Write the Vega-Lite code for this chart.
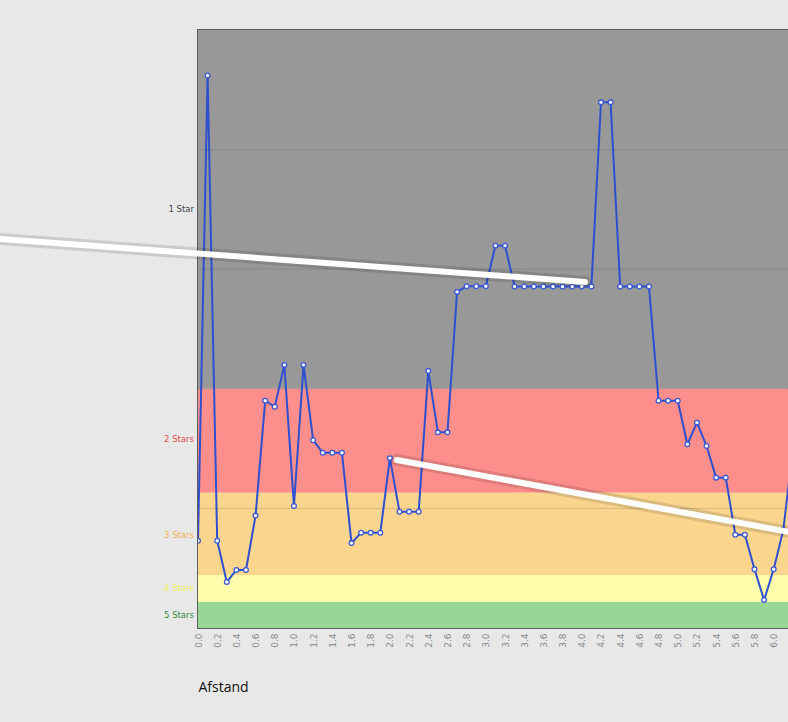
{
  "$schema": "https://vega.github.io/schema/vega-lite/v6.json",
  "width": 590,
  "height": 598,
  "autosize": {"type": "none"},
  "padding": {"left": 198, "top": 30, "right": 0, "bottom": 94},
  "background": "#e8e8e8",
  "config": {
    "view": {"stroke": "#5f5f5f", "strokeWidth": 2},
    "font": "DejaVu Sans"
  },
  "datasets": {
    "bands": [
      {"band": "1 Star", "lo": 2.0, "hi": 5.0, "mid": 3.5},
      {"band": "2 Stars", "lo": 1.13, "hi": 2.0, "mid": 1.58},
      {"band": "3 Stars", "lo": 0.443, "hi": 1.13, "mid": 0.78},
      {"band": "4 Stars", "lo": 0.217, "hi": 0.443, "mid": 0.333},
      {"band": "5 Stars", "lo": 0.0, "hi": 0.217, "mid": 0.108}
    ],
    "grid": [{"g": 1}, {"g": 2}, {"g": 3}, {"g": 4}],
    "series": [
      {"afstand": 0.0, "v": 0.73}, {"afstand": 0.1, "v": 4.62}, {"afstand": 0.2, "v": 0.73},
      {"afstand": 0.3, "v": 0.385}, {"afstand": 0.4, "v": 0.485}, {"afstand": 0.5, "v": 0.485},
      {"afstand": 0.6, "v": 0.94}, {"afstand": 0.7, "v": 1.9}, {"afstand": 0.8, "v": 1.85},
      {"afstand": 0.9, "v": 2.2}, {"afstand": 1.0, "v": 1.02}, {"afstand": 1.1, "v": 2.2},
      {"afstand": 1.2, "v": 1.57}, {"afstand": 1.3, "v": 1.465}, {"afstand": 1.4, "v": 1.465},
      {"afstand": 1.5, "v": 1.465}, {"afstand": 1.6, "v": 0.71}, {"afstand": 1.7, "v": 0.797},
      {"afstand": 1.8, "v": 0.797}, {"afstand": 1.9, "v": 0.797}, {"afstand": 2.0, "v": 1.42},
      {"afstand": 2.1, "v": 0.972}, {"afstand": 2.2, "v": 0.972}, {"afstand": 2.3, "v": 0.972},
      {"afstand": 2.4, "v": 2.15}, {"afstand": 2.5, "v": 1.636}, {"afstand": 2.6, "v": 1.636},
      {"afstand": 2.7, "v": 2.81}, {"afstand": 2.8, "v": 2.857}, {"afstand": 2.9, "v": 2.857},
      {"afstand": 3.0, "v": 2.857}, {"afstand": 3.1, "v": 3.197}, {"afstand": 3.2, "v": 3.197},
      {"afstand": 3.3, "v": 2.855}, {"afstand": 3.4, "v": 2.855}, {"afstand": 3.5, "v": 2.855},
      {"afstand": 3.6, "v": 2.855}, {"afstand": 3.7, "v": 2.855}, {"afstand": 3.8, "v": 2.855},
      {"afstand": 3.9, "v": 2.855}, {"afstand": 4.0, "v": 2.855}, {"afstand": 4.1, "v": 2.855},
      {"afstand": 4.2, "v": 4.395}, {"afstand": 4.3, "v": 4.395}, {"afstand": 4.4, "v": 2.855},
      {"afstand": 4.5, "v": 2.855}, {"afstand": 4.6, "v": 2.855}, {"afstand": 4.7, "v": 2.855},
      {"afstand": 4.8, "v": 1.9}, {"afstand": 4.9, "v": 1.9}, {"afstand": 5.0, "v": 1.9},
      {"afstand": 5.1, "v": 1.536}, {"afstand": 5.2, "v": 1.717}, {"afstand": 5.3, "v": 1.522},
      {"afstand": 5.4, "v": 1.257}, {"afstand": 5.5, "v": 1.257}, {"afstand": 5.6, "v": 0.78},
      {"afstand": 5.7, "v": 0.78}, {"afstand": 5.8, "v": 0.491}, {"afstand": 5.9, "v": 0.234},
      {"afstand": 6.0, "v": 0.491}, {"afstand": 6.1, "v": 0.82}, {"afstand": 6.2, "v": 1.5}
    ],
    "callouts": [
      {"x1": -2.064, "y1": 3.253, "x2": 4.033, "y2": 2.893},
      {"x1": 2.071, "y1": 1.405, "x2": 6.149, "y2": 0.805}
    ]
  },
  "layer": [
    {
      "data": {"name": "bands"},
      "mark": {"type": "rect"},
      "encoding": {
        "y": {"field": "lo", "type": "quantitative", "scale": {"domain": [0, 5], "nice": false, "zero": true}, "axis": null},
        "y2": {"field": "hi"},
        "fill": {
          "field": "band", "type": "nominal", "legend": null,
          "scale": {"domain": ["1 Star", "2 Stars", "3 Stars", "4 Stars", "5 Stars"],
                    "range": ["#989898", "#fd8e8b", "#fad58e", "#fefbab", "#97d796"]}
        }
      }
    },
    {
      "data": {"name": "grid"},
      "mark": {"type": "rule", "color": "#555555", "opacity": 0.22, "strokeWidth": 1},
      "encoding": {
        "y": {"field": "g", "type": "quantitative", "axis": null}
      }
    },
    {
      "data": {"name": "series"},
      "mark": {"type": "line", "color": "#2f4fcf", "strokeWidth": 2, "clip": true},
      "encoding": {
        "x": {
          "field": "afstand", "type": "quantitative",
          "scale": {"domain": [0, 6.149], "nice": false, "zero": false},
          "axis": {
            "values": [0.0, 0.2, 0.4, 0.6, 0.8, 1.0, 1.2, 1.4, 1.6, 1.8, 2.0, 2.2, 2.4, 2.6, 2.8, 3.0, 3.2, 3.4, 3.6, 3.8, 4.0, 4.2, 4.4, 4.6, 4.8, 5.0, 5.2, 5.4, 5.6, 5.8, 6.0],
            "tickCount": 100,
            "format": ".1f",
            "labelAngle": -90,
            "labelFontSize": 9,
            "labelColor": "#8a8a8a",
            "labelPadding": 5,
            "labelOverlap": false,
            "labelFlush": false,
            "ticks": false,
            "domain": false,
            "grid": false,
            "title": "Afstand",
            "titleFont": "Open Sans",
            "titleFontSize": 14,
            "titleFontWeight": "normal",
            "titleColor": "#111111",
            "titleAnchor": "start",
            "titleAlign": "left",
            "titleBaseline": "middle",
            "titleX": 0,
            "titleY": 59
          }
        },
        "y": {"field": "v", "type": "quantitative", "axis": null}
      }
    },
    {
      "data": {"name": "series"},
      "mark": {"type": "point", "shape": "circle", "filled": true, "fill": "#ffffff", "stroke": "#3a57d4", "strokeWidth": 1.3, "size": 22, "opacity": 1, "clip": true},
      "encoding": {
        "x": {"field": "afstand", "type": "quantitative"},
        "y": {"field": "v", "type": "quantitative"}
      }
    },
    {
      "data": {"name": "callouts"},
      "mark": {"type": "rule", "color": "#000000", "opacity": 0.12, "strokeWidth": 12, "strokeCap": "round", "clip": false},
      "encoding": {
        "x": {"field": "x1", "type": "quantitative"},
        "y": {"field": "y1", "type": "quantitative"},
        "x2": {"field": "x2"},
        "y2": {"field": "y2"}
      }
    },
    {
      "data": {"name": "callouts"},
      "mark": {"type": "rule", "color": "#ffffff", "strokeWidth": 6, "strokeCap": "round", "clip": false},
      "encoding": {
        "x": {"field": "x1", "type": "quantitative"},
        "y": {"field": "y1", "type": "quantitative"},
        "x2": {"field": "x2"},
        "y2": {"field": "y2"}
      }
    },
    {
      "data": {"name": "bands"},
      "mark": {"type": "text", "align": "right", "baseline": "middle", "dx": -4, "fontSize": 8.5, "font": "DejaVu Sans"},
      "encoding": {
        "x": {"datum": 0},
        "y": {"field": "mid", "type": "quantitative"},
        "text": {"field": "band"},
        "color": {
          "field": "band", "type": "nominal", "legend": null,
          "scale": {"domain": ["1 Star", "2 Stars", "3 Stars", "4 Stars", "5 Stars"],
                    "range": ["#444444", "#e44a4a", "#f2b24e", "#f2ee58", "#2f8a3a"]}
        }
      }
    }
  ],
  "resolve": {"scale": {"fill": "independent", "color": "independent"}}
}
